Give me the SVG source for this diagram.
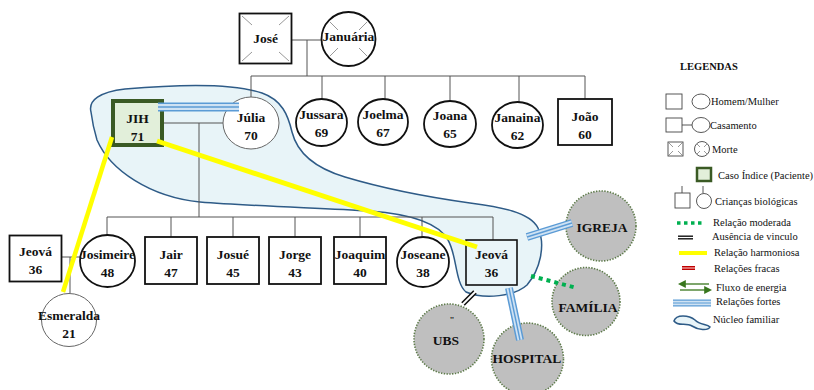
<svg xmlns="http://www.w3.org/2000/svg" width="814" height="390" viewBox="0 0 814 390">
<style>
.bg{fill:#fff}
.n{fill:#fff;stroke:#111;stroke-width:1.8}
.thin{fill:#fff;stroke:#666;stroke-width:1}
.nt{font-family:"Liberation Serif","Times New Roman",serif;font-weight:bold;font-size:13.5px;text-anchor:middle;fill:#111}
.fl{stroke:#555;stroke-width:1;fill:none}
.dx{stroke:#999;stroke-width:1;fill:none}
.ext{fill:#bfbfbf;stroke:#5d7a4a;stroke-width:1.6;stroke-dasharray:1.4 1.4}
.lg{font-family:"Liberation Serif","Times New Roman",serif;font-size:10.5px;fill:#111}
.ls{fill:#fff;stroke:#444;stroke-width:0.9}
.sA{stroke:#5b9bd5;stroke-linecap:butt;fill:none}
.sB{stroke:#cfe2f3;stroke-linecap:butt;fill:none}
.yel{stroke:#ffff00;stroke-linecap:butt;fill:none}
.mod{stroke:#00b050;stroke-dasharray:4 4;fill:none}
</style>
<defs>
<marker id="ah" viewBox="0 0 10 10" refX="1" refY="5" markerWidth="8" markerHeight="8" markerUnits="userSpaceOnUse" orient="auto-start-reverse">
<path d="M0,0 L10,5 L0,10 Z" fill="#38761d"/>
</marker>
</defs>
<rect class="bg" x="0" y="0" width="814" height="390"/>

<g id="nucleo-familiar">
<path d="M91,112 C88,100 100,92 125,89 C170,85 230,82 262,93 C282,100 288,115 292,132 C297,152 315,168 345,177 C375,186 420,196 470,203 C500,207 530,212 538,228 C546,245 540,270 527,285 C515,296 485,300 466,292 C455,283 457,255 448,240 C438,222 410,214 370,211 C320,208 250,206 200,202 C150,197 110,170 97,140 C94,130 92,120 91,112 Z" fill="#e8f4f8" stroke="#2e5b87" stroke-width="1.5"/>
</g>

<g id="family-lines" class="fl">
<path d="M291,40 H321 M307,40 V76 M251,76 H585 M251,76 V97 M322,76 V99 M385,76 V99 M450,76 V101 M519,76 V102 M585,76 V99"/>
<path d="M162,123 H223 M199,123 V217 M107,217 H493 M107,217 V235 M171,217 V237 M233,217 V237 M295,217 V237 M360,217 V237 M422,217 V237 M493,217 V240"/>
<path d="M62,257 H80 M70,257 V293"/>
</g>

<g id="jose">
<rect class="n" x="239.5" y="13.5" width="52" height="50"/>
<path class="dx" d="M242,16 L252,25 M289,16 L279,25 M242,61 L252,52 M289,61 L279,52"/>
<text class="nt" x="265.5" y="43">José</text>
</g>
<g id="januaria">
<circle class="n" cx="348.5" cy="39" r="27"/>
<path class="dx" d="M330,22 L338,30 M367,22 L359,30 M330,56 L338,48 M367,56 L359,48"/>
<text class="nt" x="348.5" y="41">Januária</text>
</g>
<g id="jih">
<rect x="113" y="101" width="49" height="44" fill="#e2efda" stroke="#3a5a24" stroke-width="4"/>
<text class="nt" x="137.5" y="123">JIH</text>
<text class="nt" x="137.5" y="141">71</text>
</g>
<g id="julia">
<ellipse class="thin" cx="251" cy="123" rx="28" ry="26"/>
<text class="nt" x="251" y="122">Júlia</text>
<text class="nt" x="251" y="140">70</text>
</g>
<g id="jussara">
<ellipse class="n" cx="321.5" cy="122.5" rx="25.5" ry="23.5"/>
<text class="nt" x="321.5" y="119">Jussara</text>
<text class="nt" x="321.5" y="137">69</text>
</g>
<g id="joelma">
<ellipse class="n" cx="383" cy="122" rx="25" ry="23"/>
<text class="nt" x="383" y="119">Joelma</text>
<text class="nt" x="383" y="137">67</text>
</g>
<g id="joana">
<ellipse class="n" cx="450" cy="124" rx="26" ry="23"/>
<text class="nt" x="450" y="120">Joana</text>
<text class="nt" x="450" y="138">65</text>
</g>
<g id="janaina">
<ellipse class="n" cx="517.5" cy="125" rx="25.5" ry="23"/>
<text class="nt" x="517.5" y="122">Janaina</text>
<text class="nt" x="517.5" y="140">62</text>
</g>
<g id="joao">
<rect class="n" x="558" y="99" width="54" height="46"/>
<text class="nt" x="585" y="121">João</text>
<text class="nt" x="585" y="139">60</text>
</g>

<g id="jeova-conjuge">
<rect class="n" x="9.5" y="235.5" width="52" height="46"/>
<text class="nt" x="35.5" y="256">Jeová</text>
<text class="nt" x="35.5" y="274">36</text>
</g>
<g id="josimeire">
<ellipse class="n" cx="107.5" cy="261" rx="27.5" ry="26"/>
<text class="nt" x="107.5" y="259">Josimeire</text>
<text class="nt" x="107.5" y="277">48</text>
</g>
<g id="esmeralda">
<ellipse class="thin" cx="69" cy="320" rx="27.5" ry="26.5"/>
<text class="nt" x="69" y="320">Esmeralda</text>
<text class="nt" x="69" y="338">21</text>
</g>
<g id="jair">
<rect class="n" x="145" y="237" width="52" height="47"/>
<text class="nt" x="171" y="259">Jair</text>
<text class="nt" x="171" y="277">47</text>
</g>
<g id="josue">
<rect class="n" x="207" y="237" width="52" height="47"/>
<text class="nt" x="233" y="259">Josué</text>
<text class="nt" x="233" y="277">45</text>
</g>
<g id="jorge">
<rect class="n" x="269" y="237" width="52" height="47"/>
<text class="nt" x="295" y="259">Jorge</text>
<text class="nt" x="295" y="277">43</text>
</g>
<g id="joaquim">
<rect class="n" x="334" y="237" width="52" height="47"/>
<text class="nt" x="360" y="259">Joaquim</text>
<text class="nt" x="360" y="277">40</text>
</g>
<g id="joseane">
<ellipse class="n" cx="423" cy="262" rx="26" ry="25"/>
<text class="nt" x="423" y="259">Joseane</text>
<text class="nt" x="423" y="277">38</text>
</g>
<g id="jeova">
<rect x="466" y="240" width="51" height="45" fill="#eaf5f9" stroke="#111" stroke-width="1.6"/>
<text class="nt" x="491.5" y="259">Jeová</text>
<text class="nt" x="491.5" y="277">36</text>
</g>

<g id="igreja">
<circle class="ext" cx="601" cy="226" r="35"/>
<text class="nt" x="602" y="232">IGREJA</text>
</g>
<g id="familia">
<circle class="ext" cx="586" cy="301.5" r="34"/>
<text class="nt" x="588" y="312">FAMÍLIA</text>
</g>
<g id="ubs">
<circle class="ext" cx="449" cy="339" r="35"/>
<text class="nt" x="452" y="323" style="font-size:9px">"</text>
<text class="nt" x="446" y="345">UBS</text>
</g>
<g id="hospital">
<circle class="ext" cx="527.5" cy="359" r="36"/>
<text class="nt" x="527" y="363">HOSPITAL</text>
</g>

<g id="connectors">
<g id="forte-jih-julia">
<line class="sA" x1="158" y1="107" x2="239" y2="107" stroke-width="9"/>
<line class="sB" x1="158" y1="107" x2="239" y2="107" stroke-width="6"/>
<line class="sA" x1="158" y1="107" x2="239" y2="107" stroke-width="1.6"/>
</g>
<g id="forte-jeova-igreja">
<line class="sA" x1="527" y1="237" x2="572" y2="223" stroke-width="8"/>
<line class="sB" x1="527" y1="237" x2="572" y2="223" stroke-width="5"/>
<line class="sA" x1="527" y1="237" x2="572" y2="223" stroke-width="1.4"/>
</g>
<g id="forte-jeova-hospital">
<line class="sA" x1="509" y1="288" x2="520" y2="340" stroke-width="8"/>
<line class="sB" x1="509" y1="288" x2="520" y2="340" stroke-width="5"/>
<line class="sA" x1="509" y1="288" x2="520" y2="340" stroke-width="1.4"/>
</g>
<line id="moderada-jeova-familia" class="mod" x1="531" y1="276" x2="577" y2="288" stroke-width="4"/>
<g id="ausencia-jeova-ubs">
<line x1="463" y1="304" x2="475" y2="292" stroke="#111" stroke-width="5"/>
<line x1="462" y1="305" x2="476" y2="291" stroke="#fff" stroke-width="1.8"/>
</g>
<line id="harmoniosa-jih-jeova" class="yel" x1="157" y1="141" x2="477" y2="247" stroke-width="5"/>
<line id="harmoniosa-jih-esmeralda" class="yel" x1="112" y1="137" x2="63" y2="292" stroke-width="4.5"/>
</g>

<g id="legenda">
<text class="lg" x="680" y="70" style="font-weight:bold">LEGENDAS</text>
<rect class="ls" x="666" y="94" width="16" height="15"/>
<ellipse class="ls" cx="701" cy="101.5" rx="9" ry="7.5"/>
<text class="lg" x="711" y="105">Homem/Mulher</text>
<rect class="ls" x="666" y="118" width="16" height="14"/>
<line x1="682" y1="125" x2="692" y2="125" stroke="#444" stroke-width="0.9"/>
<ellipse class="ls" cx="701" cy="125" rx="9" ry="7.5"/>
<text class="lg" x="710" y="129">Casamento</text>
<rect class="ls" x="668" y="142" width="15" height="14"/>
<path class="dx" d="M669,143 L673,147 M682,143 L678,147 M669,155 L673,151 M682,155 L678,151"/>
<circle class="ls" cx="702" cy="149" r="7.5" stroke="#777"/>
<path class="dx" d="M697,144 L700,147 M707,144 L704,147 M697,154 L700,151 M707,154 L704,151"/>
<text class="lg" x="712" y="153">Morte</text>
<rect x="697" y="168" width="14" height="13" fill="#e2efda" stroke="#3a5a24" stroke-width="2.5"/>
<text class="lg" x="718" y="179">Caso Índice (Paciente)</text>
<path d="M682,186 V193 M703,186 V193" stroke="#444" stroke-width="0.9"/>
<rect class="ls" x="675" y="193" width="15" height="15"/>
<circle class="ls" cx="704" cy="201" r="7.5"/>
<text class="lg" x="715" y="205">Crianças biológicas</text>
<line x1="677" y1="223" x2="705" y2="223" stroke="#00b050" stroke-width="3.5" stroke-dasharray="3.5 3.5"/>
<text class="lg" x="713" y="226">Relação moderada</text>
<line x1="678" y1="237.5" x2="693" y2="237.5" stroke="#111" stroke-width="4"/>
<line x1="678" y1="237.5" x2="693" y2="237.5" stroke="#fff" stroke-width="1.2"/>
<text class="lg" x="712" y="240">Ausência de vinculo</text>
<line x1="679" y1="253" x2="707" y2="253" stroke="#ffff00" stroke-width="4"/>
<text class="lg" x="714" y="256">Relação harmoniosa</text>
<line x1="682" y1="268" x2="695" y2="268" stroke="#c00000" stroke-width="4"/>
<line x1="682" y1="268" x2="695" y2="268" stroke="#f4b6b6" stroke-width="1.2"/>
<text class="lg" x="714" y="272">Relações fracas</text>
<line x1="709" y1="284" x2="685" y2="284" stroke="#38761d" stroke-width="1.3" marker-end="url(#ah)"/>
<line x1="680" y1="290" x2="705" y2="290" stroke="#38761d" stroke-width="1.3" marker-end="url(#ah)"/>
<text class="lg" x="716" y="291">Fluxo de energia</text>
<line x1="673" y1="303" x2="711" y2="303" stroke="#5b9bd5" stroke-width="7"/>
<line x1="673" y1="303" x2="711" y2="303" stroke="#cfe2f3" stroke-width="4.4"/>
<line x1="673" y1="303" x2="711" y2="303" stroke="#5b9bd5" stroke-width="1.2"/>
<text class="lg" x="716" y="305">Relações fortes</text>
<path d="M674,321 C676,314 689,315 695,320 C700,325 707,324 710,327 C708,331 698,330 692,326 C686,322 678,327 674,321 Z" fill="#e8f4f8" stroke="#2e5b87" stroke-width="1.6"/>
<text class="lg" x="713" y="323">Núcleo familiar</text>
</g>
</svg>
